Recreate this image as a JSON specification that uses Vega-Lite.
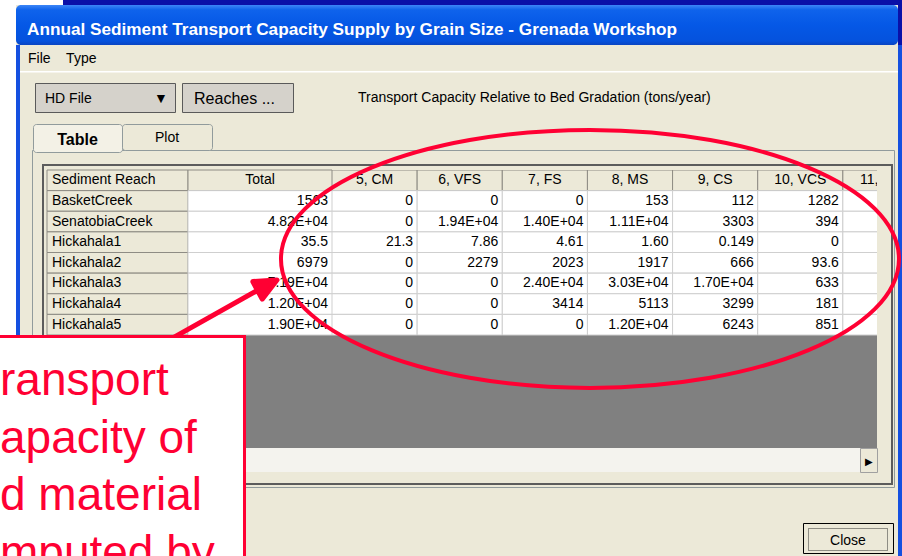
{
  "$schema": "https://vega.github.io/schema/vega-lite/v6.json",
  "padding": 0,
  "background": "#ECE9D8",
  "config": {"view": {"stroke": null}, "title": {"font": "Liberation Sans", "color": "#000000", "fontWeight": "normal", "fontSize": 14}},
  "datasets": {
    "cells": [
      {"reach": "Sediment Reach", "col": "Sediment Reach", "v": "Sediment Reach"},
      {"reach": "Sediment Reach", "col": "Total", "v": "Total"},
      {"reach": "Sediment Reach", "col": "5, CM", "v": "5, CM"},
      {"reach": "Sediment Reach", "col": "6, VFS", "v": "6, VFS"},
      {"reach": "Sediment Reach", "col": "7, FS", "v": "7, FS"},
      {"reach": "Sediment Reach", "col": "8, MS", "v": "8, MS"},
      {"reach": "Sediment Reach", "col": "9, CS", "v": "9, CS"},
      {"reach": "Sediment Reach", "col": "10, VCS", "v": "10, VCS"},
      {"reach": "Sediment Reach", "col": "11, VFG", "v": "11, VFG"},
      {"reach": "BasketCreek", "col": "Sediment Reach", "v": "BasketCreek"},
      {"reach": "BasketCreek", "col": "Total", "v": "1563"},
      {"reach": "BasketCreek", "col": "5, CM", "v": "0"},
      {"reach": "BasketCreek", "col": "6, VFS", "v": "0"},
      {"reach": "BasketCreek", "col": "7, FS", "v": "0"},
      {"reach": "BasketCreek", "col": "8, MS", "v": "153"},
      {"reach": "BasketCreek", "col": "9, CS", "v": "112"},
      {"reach": "BasketCreek", "col": "10, VCS", "v": "1282"},
      {"reach": "BasketCreek", "col": "11, VFG", "v": ""},
      {"reach": "SenatobiaCreek", "col": "Sediment Reach", "v": "SenatobiaCreek"},
      {"reach": "SenatobiaCreek", "col": "Total", "v": "4.82E+04"},
      {"reach": "SenatobiaCreek", "col": "5, CM", "v": "0"},
      {"reach": "SenatobiaCreek", "col": "6, VFS", "v": "1.94E+04"},
      {"reach": "SenatobiaCreek", "col": "7, FS", "v": "1.40E+04"},
      {"reach": "SenatobiaCreek", "col": "8, MS", "v": "1.11E+04"},
      {"reach": "SenatobiaCreek", "col": "9, CS", "v": "3303"},
      {"reach": "SenatobiaCreek", "col": "10, VCS", "v": "394"},
      {"reach": "SenatobiaCreek", "col": "11, VFG", "v": ""},
      {"reach": "Hickahala1", "col": "Sediment Reach", "v": "Hickahala1"},
      {"reach": "Hickahala1", "col": "Total", "v": "35.5"},
      {"reach": "Hickahala1", "col": "5, CM", "v": "21.3"},
      {"reach": "Hickahala1", "col": "6, VFS", "v": "7.86"},
      {"reach": "Hickahala1", "col": "7, FS", "v": "4.61"},
      {"reach": "Hickahala1", "col": "8, MS", "v": "1.60"},
      {"reach": "Hickahala1", "col": "9, CS", "v": "0.149"},
      {"reach": "Hickahala1", "col": "10, VCS", "v": "0"},
      {"reach": "Hickahala1", "col": "11, VFG", "v": ""},
      {"reach": "Hickahala2", "col": "Sediment Reach", "v": "Hickahala2"},
      {"reach": "Hickahala2", "col": "Total", "v": "6979"},
      {"reach": "Hickahala2", "col": "5, CM", "v": "0"},
      {"reach": "Hickahala2", "col": "6, VFS", "v": "2279"},
      {"reach": "Hickahala2", "col": "7, FS", "v": "2023"},
      {"reach": "Hickahala2", "col": "8, MS", "v": "1917"},
      {"reach": "Hickahala2", "col": "9, CS", "v": "666"},
      {"reach": "Hickahala2", "col": "10, VCS", "v": "93.6"},
      {"reach": "Hickahala2", "col": "11, VFG", "v": ""},
      {"reach": "Hickahala3", "col": "Sediment Reach", "v": "Hickahala3"},
      {"reach": "Hickahala3", "col": "Total", "v": "7.19E+04"},
      {"reach": "Hickahala3", "col": "5, CM", "v": "0"},
      {"reach": "Hickahala3", "col": "6, VFS", "v": "0"},
      {"reach": "Hickahala3", "col": "7, FS", "v": "2.40E+04"},
      {"reach": "Hickahala3", "col": "8, MS", "v": "3.03E+04"},
      {"reach": "Hickahala3", "col": "9, CS", "v": "1.70E+04"},
      {"reach": "Hickahala3", "col": "10, VCS", "v": "633"},
      {"reach": "Hickahala3", "col": "11, VFG", "v": ""},
      {"reach": "Hickahala4", "col": "Sediment Reach", "v": "Hickahala4"},
      {"reach": "Hickahala4", "col": "Total", "v": "1.20E+04"},
      {"reach": "Hickahala4", "col": "5, CM", "v": "0"},
      {"reach": "Hickahala4", "col": "6, VFS", "v": "0"},
      {"reach": "Hickahala4", "col": "7, FS", "v": "3414"},
      {"reach": "Hickahala4", "col": "8, MS", "v": "5113"},
      {"reach": "Hickahala4", "col": "9, CS", "v": "3299"},
      {"reach": "Hickahala4", "col": "10, VCS", "v": "181"},
      {"reach": "Hickahala4", "col": "11, VFG", "v": ""},
      {"reach": "Hickahala5", "col": "Sediment Reach", "v": "Hickahala5"},
      {"reach": "Hickahala5", "col": "Total", "v": "1.90E+04"},
      {"reach": "Hickahala5", "col": "5, CM", "v": "0"},
      {"reach": "Hickahala5", "col": "6, VFS", "v": "0"},
      {"reach": "Hickahala5", "col": "7, FS", "v": "0"},
      {"reach": "Hickahala5", "col": "8, MS", "v": "1.20E+04"},
      {"reach": "Hickahala5", "col": "9, CS", "v": "6243"},
      {"reach": "Hickahala5", "col": "10, VCS", "v": "851"},
      {"reach": "Hickahala5", "col": "11, VFG", "v": ""}
    ]
  },
  "data": {"values": []},
  "bounds": "flush",
  "spacing": 0,
  "vconcat": [
    {"bounds": "flush", "spacing": 0, "hconcat": [
      {"width": 63, "height": 5, "mark": "point", "view": {"fill": "#FFFFFF"}},
      {"width": 839, "height": 5, "mark": "point", "view": {"fill": "#0A10A8"}}
    ]},
    {"bounds": "flush", "spacing": 0, "align": "each", "columns": 3, "concat": [
      {"width": 0.001, "height": 5, "mark": "point"},
      {"width": 0.001, "height": 0.001, "mark": "point"},
      {"width": 0.001, "height": 0.001, "mark": "point"},
      {"width": 16, "height": 40, "mark": "point", "view": {"fill": "#FFFFFF"}},
      {"width": 882, "height": 40, "mark": "point",
       "view": {"fill": {"gradient": "linear", "x1": 0, "y1": 0, "x2": 0, "y2": 1, "stops": [{"offset": 0, "color": "#3D86F7"}, {"offset": 0.12, "color": "#0F63EC"}, {"offset": 0.5, "color": "#0558E6"}, {"offset": 0.9, "color": "#0552DD"}, {"offset": 1, "color": "#0A45C2"}]}, "cornerRadius": 5},
       "title": {"text": "Annual Sediment Transport Capacity Supply by Grain Size - Grenada Workshop", "anchor": "start", "dx": 11, "offset": -33.6, "color": "#FFFFFF", "fontSize": 17.2, "fontWeight": "bold"}},
      {"width": 4, "height": 40, "mark": "point", "view": {"fill": "#0A10A8"}}
    ]},
    {"bounds": "flush", "spacing": 0, "align": "each", "columns": 4, "concat": [
      {"width": 0.001, "height": 45, "mark": "point"},
      {"width": 0.001, "height": 0.001, "mark": "point"},
      {"width": 0.001, "height": 0.001, "mark": "point"},
      {"width": 0.001, "height": 0.001, "mark": "point"},
      {"width": 16, "height": 290, "mark": "point", "view": {"fill": "#FFFFFF"}},
      {"width": 4, "height": 290, "mark": "point", "view": {"fill": "#1550E0"}},
      {"width": 878, "height": 38, "mark": "point",
       "title": {"text": "File\u00a0\u00a0\u00a0\u00a0Type", "anchor": "start", "dx": 8, "offset": -21}},
      {"width": 4, "height": 511, "mark": "point", "view": {"fill": "#1550E0"}}
    ]},
    {"bounds": "flush", "spacing": 0, "align": "each", "columns": 2, "concat": [
      {"width": 0.001, "height": 71, "mark": "point"},
      {"width": 0.001, "height": 0.001, "mark": "point"},
      {"width": 20, "height": 0.001, "mark": "point"},
      {"width": 878, "height": 1.5, "mark": "point", "view": {"fill": "#FFFFFF"}}
    ]},
    {"bounds": "flush", "spacing": 0, "align": "each", "columns": 6, "concat": [
      {"width": 0.001, "height": 83, "mark": "point"},
      {"width": 0.001, "height": 0.001, "mark": "point"},
      {"width": 0.001, "height": 0.001, "mark": "point"},
      {"width": 0.001, "height": 0.001, "mark": "point"},
      {"width": 0.001, "height": 0.001, "mark": "point"},
      {"width": 0.001, "height": 0.001, "mark": "point"},
      {"width": 35, "height": 0.001, "mark": "point"},
      {"width": 140, "height": 29, "mark": "point", "view": {"fill": "#D5D2CB", "stroke": "#5A5A5A", "strokeWidth": 1},
       "title": {"text": "HD File\u00a0\u00a0\u00a0\u00a0\u00a0\u00a0\u00a0\u00a0\u00a0\u00a0\u00a0\u00a0\u00a0\u00a0\u00a0\u00a0\u25bc", "anchor": "start", "dx": 10, "offset": -23}},
      {"width": 7, "height": 0.001, "mark": "point"},
      {"width": 111, "height": 29, "mark": "point", "view": {"fill": "#D5D2CB", "stroke": "#5A5A5A", "strokeWidth": 1},
       "title": {"text": "Reaches ...", "anchor": "middle", "dx": -3, "offset": -24.4, "fontSize": 16}},
      {"width": 65, "height": 0.001, "mark": "point"},
      {"width": 400, "height": 29, "mark": "point",
       "title": {"text": "Transport Capacity Relative to Bed Gradation (tons/year)", "anchor": "start", "offset": -22}}
    ]},
    {"bounds": "flush", "spacing": 0, "align": "each", "columns": 2, "concat": [
      {"width": 0.001, "height": 150, "mark": "point"},
      {"width": 0.001, "height": 0.001, "mark": "point"},
      {"width": 32, "height": 0.001, "mark": "point"},
      {"width": 862, "height": 337, "mark": "point", "view": {"stroke": "#919B9C", "strokeWidth": 1}}
    ]},
    {"bounds": "flush", "spacing": 0, "align": "each", "columns": 2, "concat": [
      {"width": 0.001, "height": 165, "mark": "point"},
      {"width": 0.001, "height": 0.001, "mark": "point"},
      {"width": 43, "height": 0.001, "mark": "point"},
      {"width": 849, "height": 319, "mark": "point", "view": {"stroke": "#5C5C5C", "strokeWidth": 2}}
    ]},
    {"bounds": "flush", "spacing": 0, "align": "each", "columns": 3, "concat": [
      {"width": 0.001, "height": 124, "mark": "point"},
      {"width": 0.001, "height": 0.001, "mark": "point"},
      {"width": 0.001, "height": 0.001, "mark": "point"},
      {"width": 33, "height": 0.001, "mark": "point"},
      {"width": 89, "height": 28, "mark": "point", "view": {"fill": "#F3F1E6", "stroke": "#919B9C", "strokeWidth": 1, "cornerRadius": 3},
       "title": {"text": "Table", "anchor": "middle", "offset": -24.4, "fontSize": 16, "fontWeight": "bold"}},
      {"width": 90, "height": 26, "mark": "point", "view": {"fill": "#ECE9D8", "stroke": "#919B9C", "strokeWidth": 1, "cornerRadius": 3},
       "title": {"text": "Plot", "anchor": "middle", "offset": -21}}
    ]},
    {"bounds": "flush", "spacing": 0, "align": "each", "columns": 4, "concat": [
      {"width": 0.001, "height": 170, "mark": "point"},
      {"width": 0.001, "height": 0.001, "mark": "point"},
      {"width": 0.001, "height": 0.001, "mark": "point"},
      {"width": 0.001, "height": 0.001, "mark": "point"},
      {"width": 47, "height": 0.001, "mark": "point"},
      {"width": 141, "height": 278, "view": {"fill": "#808080"},
       "data": {"name": "cells"},
       "transform": [{"filter": "datum.col === 'Sediment Reach'"}],
       "encoding": {
         "x": {"field": "col", "type": "nominal", "axis": null, "scale": {"paddingInner": 0, "paddingOuter": 0}},
         "y": {"field": "reach", "type": "nominal", "axis": null, "scale": {"domain": ["Sediment Reach", "BasketCreek", "SenatobiaCreek", "Hickahala1", "Hickahala2", "Hickahala3", "Hickahala4", "Hickahala5"], "range": [0, 165], "paddingInner": 0, "paddingOuter": 0}}
       },
       "layer": [
         {"mark": {"type": "rect", "fill": "#ECE9D8", "stroke": "#8E8C84", "strokeWidth": 1}},
         {"mark": {"type": "text", "align": "left", "baseline": "middle", "dx": 5, "font": "Liberation Sans", "fontSize": 14, "color": "#000000"},
          "encoding": {"x": {"field": "col", "type": "nominal", "axis": null, "bandPosition": 0}, "text": {"field": "v"}}}
       ]},
      {"width": 144, "height": 278, "view": {"fill": "#808080"},
       "data": {"name": "cells"},
       "transform": [{"filter": "datum.col === 'Total'"}],
       "encoding": {
         "x": {"field": "col", "type": "nominal", "axis": null, "scale": {"paddingInner": 0, "paddingOuter": 0}},
         "y": {"field": "reach", "type": "nominal", "axis": null, "scale": {"domain": ["Sediment Reach", "BasketCreek", "SenatobiaCreek", "Hickahala1", "Hickahala2", "Hickahala3", "Hickahala4", "Hickahala5"], "range": [0, 165], "paddingInner": 0, "paddingOuter": 0}}
       },
       "layer": [
         {"mark": {"type": "rect", "strokeWidth": 1},
          "encoding": {
            "fill": {"condition": {"test": "datum.reach === 'Sediment Reach'", "value": "#ECE9D8"}, "value": "#FFFFFF"},
            "stroke": {"condition": {"test": "datum.reach === 'Sediment Reach'", "value": "#8E8C84"}, "value": "#CFCFCF"}}},
         {"transform": [{"filter": "datum.reach === 'Sediment Reach'"}],
          "mark": {"type": "text", "align": "center", "baseline": "middle", "font": "Liberation Sans", "fontSize": 14, "color": "#000000"},
          "encoding": {"text": {"field": "v"}}},
         {"transform": [{"filter": "datum.reach !== 'Sediment Reach'"}],
          "mark": {"type": "text", "align": "right", "baseline": "middle", "dx": -4, "font": "Liberation Sans", "fontSize": 14, "color": "#000000"},
          "encoding": {"x": {"field": "col", "type": "nominal", "axis": null, "bandPosition": 1}, "text": {"field": "v"}}},
         {"data": {"values": [{"reach": "Hickahala3", "col": "Total", "note": "arrow"}]},
          "mark": {"type": "point", "shape": "M -0.667 0.411 L -0.0167 0.046 L 0.0147 0.1047 L 0.1133 -0.0227 L -0.048 -0.0127 L -0.0167 0.046 Z", "size": 90000, "filled": true, "fill": "#FF0033", "stroke": "#FF0033", "strokeWidth": 5, "strokeJoin": "round", "opacity": 1}}
       ]},
      {"width": 545, "height": 278, "view": {"fill": "#808080"},
       "data": {"name": "cells"},
       "transform": [{"filter": "datum.col !== 'Sediment Reach' && datum.col !== 'Total'"}],
       "encoding": {
         "x": {"field": "col", "type": "nominal", "axis": null, "scale": {"domain": ["5, CM", "6, VFS", "7, FS", "8, MS", "9, CS", "10, VCS", "11, VFG"], "range": [0, 596], "paddingInner": 0, "paddingOuter": 0}},
         "y": {"field": "reach", "type": "nominal", "axis": null, "scale": {"domain": ["Sediment Reach", "BasketCreek", "SenatobiaCreek", "Hickahala1", "Hickahala2", "Hickahala3", "Hickahala4", "Hickahala5"], "range": [0, 165], "paddingInner": 0, "paddingOuter": 0}}
       },
       "layer": [
         {"mark": {"type": "rect", "strokeWidth": 1, "clip": true},
          "encoding": {
            "fill": {"condition": {"test": "datum.reach === 'Sediment Reach'", "value": "#ECE9D8"}, "value": "#FFFFFF"},
            "stroke": {"condition": {"test": "datum.reach === 'Sediment Reach'", "value": "#8E8C84"}, "value": "#CFCFCF"}}},
         {"transform": [{"filter": "datum.reach === 'Sediment Reach'"}],
          "mark": {"type": "text", "align": "center", "baseline": "middle", "font": "Liberation Sans", "fontSize": 14, "color": "#000000", "clip": true},
          "encoding": {"text": {"field": "v"}}},
         {"transform": [{"filter": "datum.reach !== 'Sediment Reach'"}],
          "mark": {"type": "text", "align": "right", "baseline": "middle", "dx": -4, "font": "Liberation Sans", "fontSize": 14, "color": "#000000", "clip": true},
          "encoding": {"x": {"field": "col", "type": "nominal", "axis": null, "bandPosition": 1}, "text": {"field": "v"}}},
         {"data": {"values": [{"reach": "Hickahala2", "col": "8, MS", "note": "ellipse"}]},
          "mark": {"type": "point", "shape": "M -1 0 C -1 -0.2306 -0.5523 -0.4175 0 -0.4175 C 0.5523 -0.4175 1 -0.2306 1 0 C 1 0.2306 0.5523 0.4175 0 0.4175 C -0.5523 0.4175 -1 0.2306 -1 0 Z", "size": 381924, "filled": false, "stroke": "#FF0033", "strokeWidth": 4, "opacity": 1},
          "encoding": {"x": {"field": "col", "type": "nominal", "axis": null, "bandPosition": 0.03}, "y": {"field": "reach", "type": "nominal", "axis": null, "bandPosition": 0.31}}}
       ]}
    ]},
    {"bounds": "flush", "spacing": 0, "align": "each", "columns": 3, "concat": [
      {"width": 0.001, "height": 448, "mark": "point"},
      {"width": 0.001, "height": 0.001, "mark": "point"},
      {"width": 0.001, "height": 0.001, "mark": "point"},
      {"width": 47, "height": 0.001, "mark": "point"},
      {"width": 813, "height": 24, "mark": "point", "view": {"fill": "#F4F3EE"}},
      {"width": 17, "height": 24, "mark": "point", "view": {"fill": "#ECE9D8", "stroke": "#A0A0A0", "strokeWidth": 1},
       "title": {"text": "\u25b6", "anchor": "middle", "offset": -19, "fontSize": 10}}
    ]},
    {"bounds": "flush", "spacing": 0, "align": "each", "columns": 2, "concat": [
      {"width": 0.001, "height": 523, "mark": "point"},
      {"width": 0.001, "height": 0.001, "mark": "point"},
      {"width": 803, "height": 0.001, "mark": "point"},
      {"width": 90, "height": 30, "mark": "point", "view": {"fill": "#ECE9D8", "stroke": "#000000", "strokeWidth": 1},
       "title": {"text": "Close", "anchor": "middle", "offset": -25}}
    ]},
    {"bounds": "flush", "spacing": 0, "align": "each", "columns": 2, "concat": [
      {"width": 0.001, "height": 528, "mark": "point"},
      {"width": 0.001, "height": 0.001, "mark": "point"},
      {"width": 808, "height": 0.001, "mark": "point"},
      {"width": 79, "height": 22, "mark": "point", "view": {"stroke": "#303030", "strokeWidth": 1, "strokeDash": [1, 1]}}
    ]},
    {"bounds": "flush", "spacing": 0, "align": "each", "columns": 2, "concat": [
      {"width": 0.001, "height": 335, "mark": "point"},
      {"width": 0.001, "height": 0.001, "mark": "point"},
      {"width": 243, "height": 3, "mark": "point", "view": {"fill": "#FF0033"}},
      {"width": 3, "height": 3, "mark": "point", "view": {"fill": "#FF0033"}},
      {"width": 243, "height": 218, "view": {"fill": "#FFFFFF"},
       "data": {"values": [{"line": "ransport"}, {"line": "apacity of"}, {"line": "d material"}, {"line": "mputed by"}]},
       "mark": {"type": "text", "align": "left", "baseline": "alphabetic", "font": "Liberation Sans", "fontSize": 46, "color": "#FF0033", "clip": true},
       "encoding": {
         "x": {"datum": 0, "type": "quantitative", "scale": {"domain": [0, 1]}, "axis": null},
         "y": {"field": "line", "type": "ordinal", "sort": null, "axis": null, "scale": {"type": "point", "range": [57, 230], "padding": 0}},
         "text": {"field": "line"}
       }},
      {"width": 3, "height": 218, "mark": "point", "view": {"fill": "#FF0033"}}
    ]}
  ]
}
